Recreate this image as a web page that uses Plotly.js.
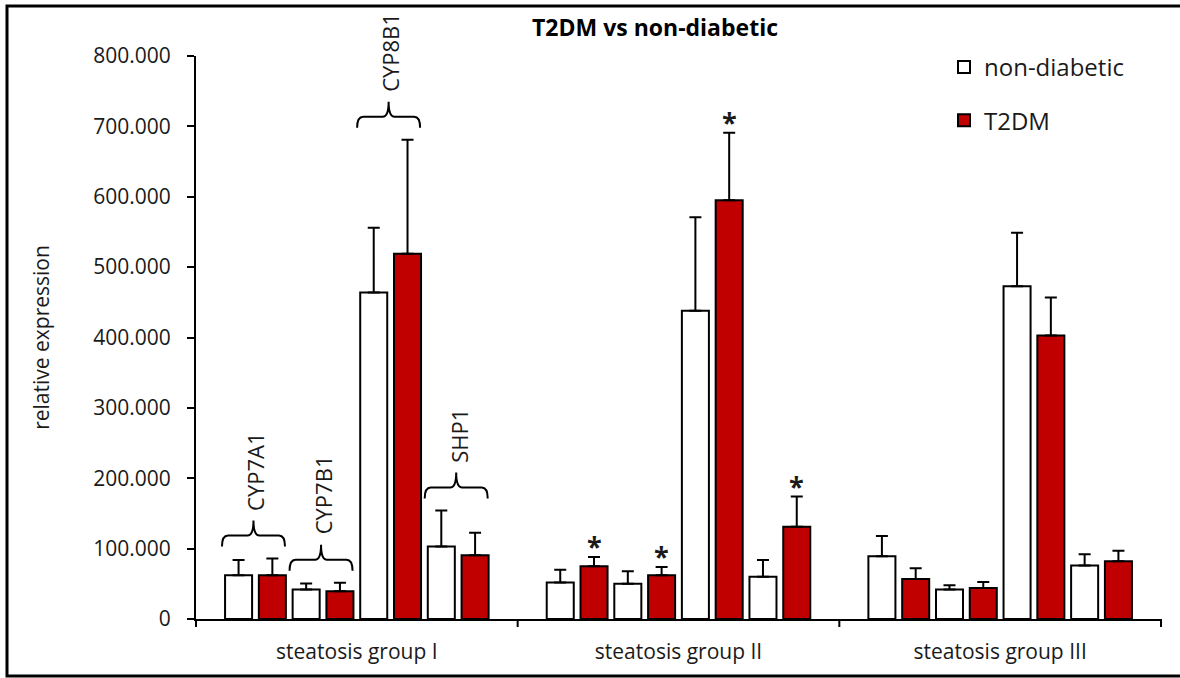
<!DOCTYPE html>
<html>
<head>
<meta charset="utf-8">
<script src="https://cdn.plot.ly/plotly-3.0.1.min.js"></script>
<style>
  html, body { margin: 0; padding: 0; background: #ffffff; }
  #chart { width: 1180px; height: 678px; }
</style>
</head>
<body>
<div id="chart"></div>
<script>
// ---------------- data ----------------
const genes = ['CYP7A1', 'CYP7B1', 'CYP8B1', 'SHP1'];
const groups = ['steatosis group I', 'steatosis group II', 'steatosis group III'];
const seriesNames = ['non-diabetic', 'T2DM'];

const nonDiabeticI    = [62000, 42000, 464000, 103000];
const nonDiabeticErrI = [22000,  8500,  92000,  51000];
const t2dmI           = [62000, 39500, 519000,  90500];
const t2dmErrI        = [24000, 12000, 162000,  32000];

const nonDiabeticII    = [52000, 50000, 438000,  60000];
const nonDiabeticErrII = [18000, 18000, 133000,  24000];
const t2dmII           = [75000, 62000, 595000, 131000];
const t2dmErrII        = [13000, 12000,  96000,  43000];

const nonDiabeticIII    = [89000, 42000, 473000, 76000];
const nonDiabeticErrIII = [29000,  6000,  76000, 16000];
const t2dmIII           = [57000, 44000, 403000, 82000];
const t2dmErrIII        = [15000,  8500,  54000, 15000];

// significance markers (*) for T2DM vs non-diabetic
const significantI   = [false, false, false, false];
const significantII  = [true, true, true, true];
const significantIII = [false, false, false, false];

// genes labelled with a brace (only in group I)
const bracedGroup = 0;

const yTickVals = [0, 100000, 200000, 300000, 400000, 500000, 600000, 700000, 800000];
const yTitle = 'relative expression';
const chartTitle = 'T2DM vs non-diabetic';

// ---------------- layout constants ----------------
const W = 1180, H = 678;
const M = { l: 196, r: 19, t: 56, b: 59 };
const plotW = W - M.l - M.r;
const plotH = H - M.t - M.b;
const yMax = 800000;
const unitsPerPx = yMax / plotH;
const catRange = [-0.88, 3.88];
const catPx = (plotW / 3) / (catRange[1] - catRange[0]);
const BARGAP = 0;
const RED = '#c00000';
const TXT = '#1a1a1a';
const FONT = 'Open Sans';

const px2paperX = p => (p - M.l) / plotW;
const px2paperY = p => (H - M.b - p) / plotH;

const ndVals = [nonDiabeticI, nonDiabeticII, nonDiabeticIII];
const ndErrs = [nonDiabeticErrI, nonDiabeticErrII, nonDiabeticErrIII];
const tdVals = [t2dmI, t2dmII, t2dmIII];
const tdErrs = [t2dmErrI, t2dmErrII, t2dmErrIII];
const sigs = [significantI, significantII, significantIII];

const suffix = ['', '2', '3'];
const traces = [];
for (let g = 0; g < 3; g++) {
  const xa = 'x' + suffix[g];
  traces.push({
    type: 'bar', x: genes, y: ndVals[g], name: seriesNames[0],
    legendgroup: 'nd', showlegend: g === 0, xaxis: xa, yaxis: 'y',
    marker: { color: '#ffffff', line: { color: '#000000', width: 2 } },
    error_y: { type: 'data', array: ndErrs[g], arrayminus: ndErrs[g].map(() => 0),
               symmetric: false, color: '#000000', thickness: 2, width: 6 }
  });
  traces.push({
    type: 'bar', x: genes, y: tdVals[g], name: seriesNames[1],
    legendgroup: 'td', showlegend: g === 0, xaxis: xa, yaxis: 'y',
    marker: { color: RED, line: { color: '#000000', width: 2 } },
    error_y: { type: 'data', array: tdErrs[g], arrayminus: tdErrs[g].map(() => 0),
               symmetric: false, color: '#000000', thickness: 2, width: 6 }
  });
}

const annotations = [];
const shapes = [];

// significance stars above T2DM bars
const redOffset = (1 - BARGAP) / 4;
for (let g = 0; g < 3; g++) {
  sigs[g].forEach((s, i) => {
    if (!s) return;
    annotations.push({
      xref: 'x' + suffix[g], yref: 'y', x: i + redOffset, y: tdVals[g][i] + tdErrs[g][i],
      text: '*', showarrow: false, yanchor: 'bottom', yshift: -9,
      font: { family: FONT, size: 27, color: TXT, weight: 'bold' }
    });
  });
}

// braces + rotated gene labels
{
  const g = bracedGroup;
  const xa = 'x' + suffix[g];
  const hw = 31.5 / catPx;
  const r = 6 / catPx;
  genes.forEach((gene, i) => {
    const top = Math.max(ndVals[g][i] + ndErrs[g][i], tdVals[g][i] + tdErrs[g][i]);
    const y0 = top + 12 * unitsPerPx;
    const y1 = y0 + 11 * unitsPerPx;
    const yp = y0 + 26 * unitsPerPx;
    const x0 = i - hw - 2 / catPx, x1 = i + hw - 2 / catPx, xm = i - 2 / catPx;
    const path = `M${x0},${y0} Q${x0},${y1} ${x0 + r},${y1} L${xm - r},${y1} ` +
                 `Q${xm},${y1} ${xm},${yp} Q${xm},${y1} ${xm + r},${y1} ` +
                 `L${x1 - r},${y1} Q${x1},${y1} ${x1},${y0}`;
    shapes.push({ type: 'path', xref: xa, yref: 'y', path: path,
                  line: { color: '#000000', width: 2 } });
    annotations.push({
      xref: xa, yref: 'y', x: i, y: yp, text: gene, showarrow: false,
      textangle: -90, yanchor: 'bottom', xanchor: 'center', yshift: 8,
      font: { family: FONT, size: 22, color: TXT }
    });
  });
}

// group boundary ticks below the x axis
[0, 1 / 3, 2 / 3, 1].forEach(xp => {
  shapes.push({ type: 'line', xref: 'paper', yref: 'paper', x0: xp, x1: xp,
                y0: 0, y1: -8 / plotH, line: { color: '#000000', width: 2 } });
});

// outer frame
shapes.push({ type: 'rect', xref: 'paper', yref: 'paper',
              x0: px2paperX(7), x1: px2paperX(1190), y0: px2paperY(676), y1: px2paperY(6),
              line: { color: '#000000', width: 3 }, fillcolor: 'rgba(0,0,0,0)' });

const xAxisBase = {
  type: 'category', range: catRange, showline: true, linecolor: '#000000', linewidth: 2,
  ticks: '', showticklabels: false, showgrid: false, zeroline: false, anchor: 'y',
  automargin: false, fixedrange: true
};

const layout = {
  width: W, height: H,
  margin: M,
  paper_bgcolor: '#ffffff', plot_bgcolor: '#ffffff',
  font: { family: FONT, color: TXT },
  separators: ',.',
  barmode: 'group', bargap: BARGAP, bargroupgap: 0.2,
  title: { text: chartTitle, xref: 'paper', x: px2paperX(655), xanchor: 'center',
           yref: 'container', y: 1 - 28 / H, yanchor: 'middle',
           font: { family: FONT, size: 23, color: '#000000', weight: 'bold' } },
  xaxis:  Object.assign({}, xAxisBase, { domain: [0, 1 / 3],
           title: { text: groups[0], standoff: 24, font: { size: 21, color: TXT } } }),
  xaxis2: Object.assign({}, xAxisBase, { domain: [1 / 3, 2 / 3],
           title: { text: groups[1], standoff: 24, font: { size: 21, color: TXT } } }),
  xaxis3: Object.assign({}, xAxisBase, { domain: [2 / 3, 1],
           title: { text: groups[2], standoff: 24, font: { size: 21, color: TXT } } }),
  yaxis: {
    range: [0, yMax], tickvals: yTickVals, tickformat: ',d',
    showline: true, linecolor: '#000000', linewidth: 2,
    ticks: 'outside', ticklen: 7, tickwidth: 2, tickcolor: '#000000',
    ticklabelstandoff: 12,
    tickfont: { family: FONT, size: 21, color: TXT },
    showgrid: false, zeroline: false, automargin: false, fixedrange: true,
    title: { text: yTitle, standoff: 38, font: { family: FONT, size: 21, color: TXT } }
  },
  showlegend: true,
  legend: { x: px2paperX(944), xanchor: 'left', y: px2paperY(45), yanchor: 'top',
            bgcolor: 'rgba(0,0,0,0)', borderwidth: 0, tracegroupgap: 19,
            font: { family: FONT, size: 24, color: TXT } },
  annotations: annotations,
  shapes: shapes
};

Plotly.newPlot('chart', traces, layout, { staticPlot: true, displayModeBar: false });
</script>
</body>
</html>
